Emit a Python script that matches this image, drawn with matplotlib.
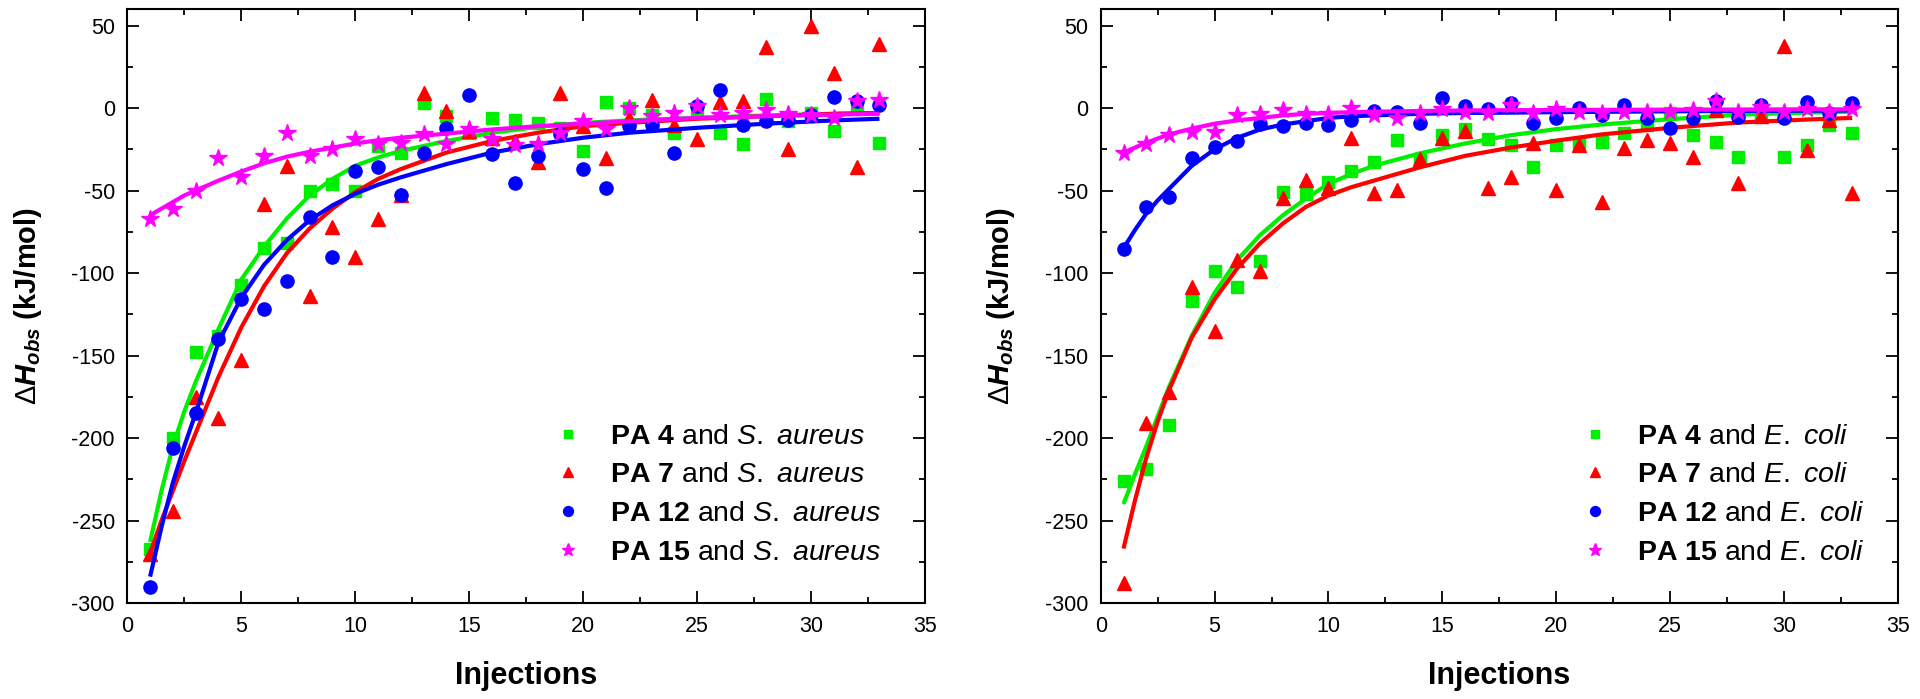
import matplotlib
matplotlib.use("Agg")
import matplotlib.pyplot as plt
from matplotlib.ticker import MultipleLocator

plt.rcParams['font.family'] = ['Liberation Sans', 'DejaVu Sans']
plt.rcParams['mathtext.fontset'] = 'custom'
plt.rcParams['mathtext.rm'] = 'Liberation Sans'
plt.rcParams['mathtext.it'] = 'Liberation Sans:italic'
plt.rcParams['mathtext.bf'] = 'Liberation Sans:bold'
plt.rcParams['mathtext.bfit'] = 'Liberation Sans:italic:bold'

# ---------------- data ----------------
injections = list(range(1, 34))

# S. aureus panel (points)
sa_pa4 = [-267, -200, -148, -138, -107, -85, -82, -50, -46, -50, -23, -27, 3, -5, -15, -6, -7,
          -9, -12, -26, 3.4, 0, -4, -15, -2, -15, -22, 5.5, -8, -3, -14, 1.4, -21]
sa_pa7 = [-270, -244, -175, -188, -153, -58, -35, -114, -72, -90, -67, -53, 9, -2, -14, -18, -20,
          -33, 9, -11, -30, -6, 5, -10, -19, 3.4, 4, 37, -25, 50, 21, -36, 39]
sa_pa12 = [-290, -206, -185, -140, -116, -122, -105, -66, -90, -38, -36, -53, -27, -12, 8, -28, -45.5,
           -29, -16, -37, -48.5, -11, -10, -27, 1.4, 11, -10.5, -8, -7, -4, 6.5, 4, 2]
sa_pa15 = [-67, -61, -50, -30.5, -42, -29, -15, -29, -25, -19, -22, -21, -16, -22, -13, -19, -22.6,
           -21.6, -15, -8, -13, 0, -5, -3, 1, -4, -3, -1, -3.4, -4, -6, 4, 5]

# E. coli panel (points)
ec_pa4 = [-226, -218.5, -192, -117, -98.5, -108.6, -93, -50.6, -52, -45, -38, -33, -19.2, -31, -16.2,
          -12.8, -19, -22.3, -36, -22.3, -21, -20.3, -15.2, -10, -3.2, -16.4, -20.3, -29.4, -5,
          -29.4, -22.3, -10.2, -15.2]
ec_pa7 = [-288, -191, -172, -108.6, -135, -92, -98.5, -54.6, -43.5, -48.5, -18, -51.7, -49.7, -31,
          -18, -14.2, -48.7, -41.6, -21.3, -49.7, -22.3, -56.8, -24.4, -19.4, -21.3, -29.4, -1,
          -45.5, -5, 37.4, -25.4, -7, -51.6]
ec_pa12 = [-85.6, -60, -54, -30.3, -23.9, -20.2, -9.5, -11, -9, -10, -7.1, -2, -2.4, -8.9, 6, 1,
           -0.6, 3, -8.9, -6.3, 0, -4, 2, -6.3, -12.4, -6.3, 4, -5.3, 2, -6.3, 3.4, -3, 3]
ec_pa15 = [-27.3, -21.6, -16.2, -14.8, -14.8, -4, -3.4, -1, -3.4, -3.6, 0, -4, -6.3, -2.9, -0.8,
           -2.2, -2.9, 1.7, -3, -0.8, -2.2, -3, -2.2, -2.2, -2.2, -1.2, 4, -2.2, 0.8, -2.2, -0.8,
           -2.2, -0.6]

# fitted curves, values
fit_x = [1, 1.5, 2, 2.5, 3, 4, 5, 6, 7, 8, 9, 10, 11, 12, 14, 16, 18, 20, 22, 25, 28, 31, 33]
sa_fit4 = [-263, -232, -205, -184, -166, -134, -104, -84, -67, -53, -43, -35, -30, -26, -20, -15,
           -11.5, -9, -7.5, -6, -4.5, -3.5, -3]
sa_fit7 = [-270, -250, -232, -214, -197, -163, -133, -108, -88, -73, -61, -51, -43, -37, -27, -20,
           -15, -11, -9, -6.5, -5, -3.5, -3]
sa_fit12 = [-284, -254, -227, -205, -185, -142, -115, -95, -80, -68, -59, -52, -46.5, -42, -34, -27,
            -22, -18, -15, -12, -9.5, -7.5, -6.5]
sa_fit15 = [-65, -61, -57, -53, -50, -44, -38.5, -33.5, -29.5, -26.5, -24, -21.5, -19.5, -18,
            -15.5, -13, -11, -9.5, -8, -6, -5, -4, -3.5]
ec_fit4 = [-240, -222, -205, -187, -169, -138, -112, -92, -77, -65, -55, -46, -40, -35, -27.5,
           -21.5, -16.5, -12.8, -10, -6.8, -4, -2.8, -2.2]
ec_fit7 = [-267, -238, -212, -190, -171, -139, -116, -97, -82, -70, -60, -53, -48, -44, -36, -29,
           -24, -19.8, -16, -12, -8.8, -7, -6]
ec_fit12 = [-85, -74, -64, -56, -49, -35, -25, -18, -13, -10, -8, -6, -5, -4.5, -3.5, -3, -2.8,
            -2.5, -2.3, -2, -1.8, -1.6, -1.5]
ec_fit15 = [-27, -24, -21, -18.5, -16, -12.5, -9.5, -7.5, -6, -4.5, -3.5, -3, -2.5, -2.2, -1.8,
            -1.5, -1.3, -1.2, -1.1, -1, -0.9, -0.8, -0.8]

compounds = ['4', '7', '12', '15']
colors = ['#00ee00', '#ff0000', '#0000ff', '#ff00ff']
markers = ['s', '^', 'o', '*']
msizes = [8, 10, 9.5, 13]

panels = [
    dict(pts=[sa_pa4, sa_pa7, sa_pa12, sa_pa15], fits=[sa_fit4, sa_fit7, sa_fit12, sa_fit15],
         org=r'$\mathit{S.\ aureus}$', rect=[0.0663, 0.1373, 0.4155, 0.8498], leg=(0.534, 0.302)),
    dict(pts=[ec_pa4, ec_pa7, ec_pa12, ec_pa15], fits=[ec_fit4, ec_fit7, ec_fit12, ec_fit15],
         org=r'$\mathit{E.\ coli}$', rect=[0.5733, 0.1373, 0.4151, 0.8498], leg=(0.602, 0.302)),
]

fig = plt.figure(figsize=(19.2, 6.99), dpi=100)

for p in panels:
    ax = fig.add_axes(p['rect'])
    handles = []
    for k in range(4):
        h, = ax.plot(injections, p['pts'][k], linestyle='none', marker=markers[k],
                     ms=msizes[k], color=colors[k], mec=colors[k], zorder=3 + k)
        ax.plot(fit_x, p['fits'][k], color=colors[k], lw=3.0, zorder=3 + k,
                solid_capstyle='butt')
        handles.append(h)
    labels = [r'$\mathbf{PA\ %s}$ and ' % c + p['org'] for c in compounds]
    leg = ax.legend(handles, labels, loc='upper left', bbox_to_anchor=p['leg'], frameon=False,
                    fontsize=20.5, borderaxespad=0, borderpad=0, handlelength=1.0,
                    handletextpad=1.0, labelspacing=0.45, markerscale=0.75)

    ax.set_xlim(0, 35)
    ax.set_ylim(-300, 60)
    ax.xaxis.set_major_locator(MultipleLocator(5))
    ax.xaxis.set_minor_locator(MultipleLocator(2.5))
    ax.yaxis.set_major_locator(MultipleLocator(50))
    ax.yaxis.set_minor_locator(MultipleLocator(25))
    ax.tick_params(which='both', direction='in', top=True, right=True, width=1.3,
                   labelsize=15.5, pad=9)
    ax.tick_params(which='major', length=8.5)
    ax.tick_params(which='minor', length=4.5)
    ax.set_yticks(range(-300, 51, 50))
    ax.set_yticklabels([str(v) for v in range(-300, 51, 50)])
    for s in ax.spines.values():
        s.set_linewidth(1.5)
    ax.set_xlabel('Injections', fontsize=22, fontweight='bold', va='center')
    ax.xaxis.set_label_coords(0.5, -0.123)
    ax.set_ylabel(r'$\Delta\mathbfit{H}_{\mathbfit{obs}}$ (kJ/mol)', fontsize=21,
                  fontweight='bold', va='center', ha='center')
    ax.yaxis.set_label_coords(-0.125, 0.5)

fig.savefig('out.png', dpi=100)
